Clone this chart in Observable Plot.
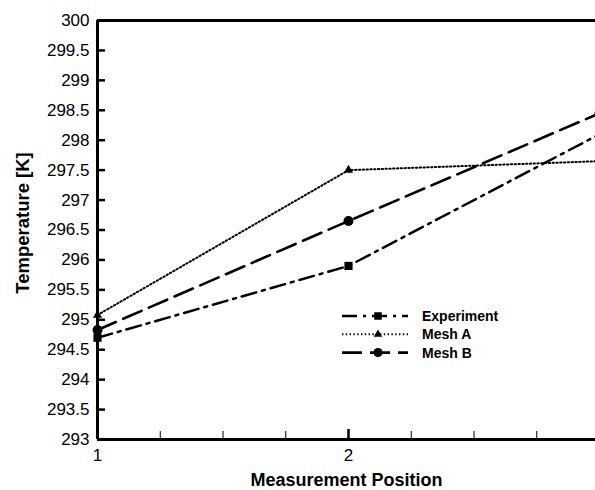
<!DOCTYPE html>
<html>
<head>
<meta charset="utf-8">
<script src="https://cdn.jsdelivr.net/npm/d3@7"></script>
<script src="https://cdn.jsdelivr.net/npm/@observablehq/plot@0.6"></script>
<style>
  html, body { margin: 0; padding: 0; background: #fff; }
  #wrap { position: relative; width: 595px; height: 490px; overflow: hidden; font-family: "Liberation Sans", Arial, sans-serif; }
  #legend { position: absolute; left: 0; top: 0; }
</style>
</head>
<body>
<div id="wrap"></div>
<script>
// ---- data ----
const positions = [1, 2, 3];
const experiment = [294.7, 295.9, 298.1];
const meshA = [295.08, 297.5, 297.65];
const meshB = [294.83, 296.65, 298.45];
const seriesNames = ["Experiment", "Mesh A", "Mesh B"];
const yTicks = [293, 293.5, 294, 294.5, 295, 295.5, 296, 296.5, 297, 297.5, 298, 298.5, 299, 299.5, 300];
const xTicks = [1, 2, 3];
const xMinorTicks = [1.25, 1.5, 1.75, 2.25, 2.5, 2.75];
const yTitle = "Temperature [K]";
const xTitle = "Measurement Position";

// ---- styles ----
const styles = {
  "Experiment": {dash: "15,6,3,6", width: 2.5, symbol: "square", r: 4.6},
  "Mesh A": {dash: "1.4,2.4", width: 2, symbol: "triangle", r: 3.4},
  "Mesh B": {dash: "20,8", width: 2.6, symbol: "circle", r: 5}
};
const rows = (vals, name) => positions.map((p, i) => ({x: p, y: vals[i], series: name}));
const data = {
  "Experiment": rows(experiment, "Experiment"),
  "Mesh A": rows(meshA, "Mesh A"),
  "Mesh B": rows(meshB, "Mesh B")
};

const W = 595, H = 490, mL = 97, mT = 20, mB = 51;
const lineMarks = seriesNames.flatMap(name => [
  Plot.line(data[name], {x: "x", y: "y", stroke: "black", strokeWidth: styles[name].width, strokeDasharray: styles[name].dash, clip: true}),
  Plot.dot(data[name], {x: "x", y: "y", fill: "black", stroke: "none", symbol: () => styles[name].symbol, r: styles[name].r})
]);

const chart = Plot.plot({
  width: W,
  height: H,
  marginLeft: mL,
  marginTop: mT,
  marginBottom: mB,
  marginRight: 0,
  style: {fontFamily: "'Liberation Sans', Arial, sans-serif", background: "white", color: "black", overflow: "visible"},
  x: {domain: [1, 3], range: [mL, 599]},
  y: {domain: [293, 300]},
  marks: [
    ...lineMarks,
    // y major ticks (inward)
    Plot.tickY(yTicks, {y: d => d, stroke: "black", strokeWidth: 2.5, insetRight: 599 - mL - 12}),
    // x major ticks (inward)
    Plot.tickX(xTicks, {x: d => d, stroke: "black", strokeWidth: 2.5, insetTop: (H - mB - mT) - 10}),
    // x minor ticks
    Plot.tickX(xMinorTicks, {x: d => d, stroke: "black", strokeWidth: 1, insetTop: (H - mB - mT) - 8}),
    // axis frame lines
    Plot.ruleX([1], {stroke: "black", strokeWidth: 3}),
    Plot.ruleY([293], {stroke: "black", strokeWidth: 3}),
    Plot.ruleY([300], {stroke: "black", strokeWidth: 3}),
    Plot.axisY({ticks: yTicks, tickSize: 0, tickPadding: 8, fontSize: 17, label: null, tickFormat: d => String(d)}),
    Plot.axisX({ticks: xTicks, tickSize: 0, tickPadding: 9, fontSize: 17, label: null, tickFormat: d => String(d)}),
    Plot.text([yTitle], {text: d => d, frameAnchor: "left", textAnchor: "middle", lineAnchor: "middle", rotate: -90, dx: -74, dy: -7, fontSize: 18.5, fontWeight: "bold"}),
    Plot.text([xTitle], {text: d => d, frameAnchor: "bottom", textAnchor: "middle", lineAnchor: "middle", dy: 41, fontSize: 18, fontWeight: "bold"})
  ]
});
document.getElementById("wrap").appendChild(chart);

// ---- legend (overlay) ----
const leg = d3.select("#wrap").append("svg")
  .attr("id", "legend").attr("width", W).attr("height", H);
const lx0 = 342, lx1 = 408, ly0 = 316, lstep = 18.3;
seriesNames.forEach((name, i) => {
  const s = styles[name];
  const y = ly0 + i * lstep;
  leg.append("line").attr("x1", lx0).attr("x2", lx1).attr("y1", y).attr("y2", y)
    .attr("stroke", "black").attr("stroke-width", s.width).attr("stroke-dasharray", s.dash);
  const size = Math.PI * s.r * s.r * 0.85;
  const sym = s.symbol === "square" ? d3.symbolSquare : s.symbol === "triangle" ? d3.symbolTriangle : d3.symbolCircle;
  leg.append("path").attr("d", d3.symbol(sym, size)()).attr("transform", `translate(${(lx0 + lx1) / 2 + 3},${y})`).attr("fill", "black");
  leg.append("text").attr("x", 422).attr("y", y).attr("dy", "0.35em")
    .attr("font-size", 14).attr("font-weight", "bold")
    .attr("font-family", "'Liberation Sans', Arial, sans-serif").text(name);
});
</script>
</body>
</html>
